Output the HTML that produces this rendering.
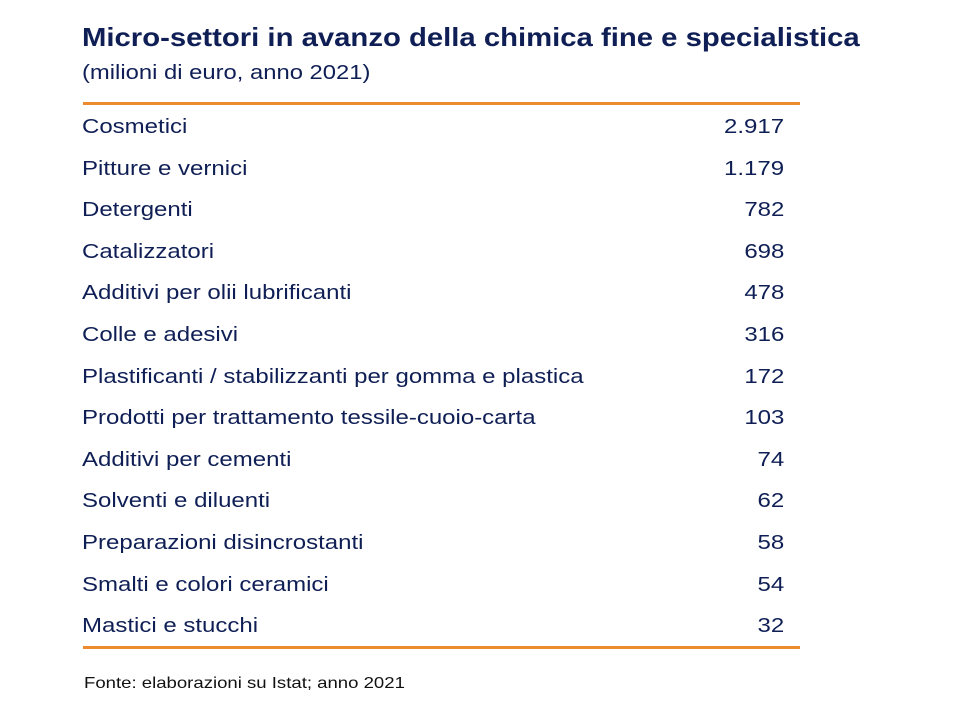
<!DOCTYPE html>
<html><head><meta charset="utf-8"><style>
body{margin:0;background:#fff;}
#c{position:relative;width:960px;height:720px;overflow:hidden;font-family:"Liberation Sans",Arial,sans-serif;color:#0f1f55;}
.t{position:absolute;white-space:nowrap;transform-origin:left center;}
.row{position:absolute;left:82px;width:702px;height:30px;font-size:20px;line-height:30px;}
.row .l{position:absolute;left:0;top:0;white-space:nowrap;transform:scaleX(1.2);transform-origin:left center;}
.row .v{position:absolute;right:0;top:0;white-space:nowrap;transform:scaleX(1.2);transform-origin:right center;}
.line{position:absolute;left:83px;width:717px;height:3px;background:#ee8a2e;}
</style></head><body>
<div id="c">
<div class="t" style="left:82px;top:22px;font-size:26px;font-weight:bold;transform:scaleX(1.126);">Micro-settori in avanzo della chimica fine e specialistica</div>
<div class="t" style="left:82px;top:62px;font-size:20px;transform:scaleX(1.19);">(milioni di euro, anno 2021)</div>
<div class="line" style="top:102px;"></div>
<div id="rows"></div>
<div class="line" style="top:646px;"></div>
<div class="t" style="left:84px;top:675px;font-size:16px;color:#111;transform:scaleX(1.16);">Fonte: elaborazioni su Istat; anno 2021</div>
</div>
<script>
const categories=["Cosmetici","Pitture e vernici","Detergenti","Catalizzatori","Additivi per olii lubrificanti","Colle e adesivi","Plastificanti / stabilizzanti per gomma e plastica","Prodotti per trattamento tessile-cuoio-carta","Additivi per cementi","Solventi e diluenti","Preparazioni disincrostanti","Smalti e colori ceramici","Mastici e stucchi"];
const values=["2.917","1.179","782","698","478","316","172","103","74","62","58","54","32"];
const rows=document.getElementById('rows');
categories.forEach((c,i)=>{
  const r=document.createElement('div');
  r.className='row';
  r.style.top=(112+i*41.6)+'px';
  
  
  const l=document.createElement('span');l.className='l';l.textContent=c;
  
  
  const v=document.createElement('span');v.className='v';v.textContent=values[i];
  
  
  r.appendChild(l);r.appendChild(v);rows.appendChild(r);
});
</script>
</body></html>
